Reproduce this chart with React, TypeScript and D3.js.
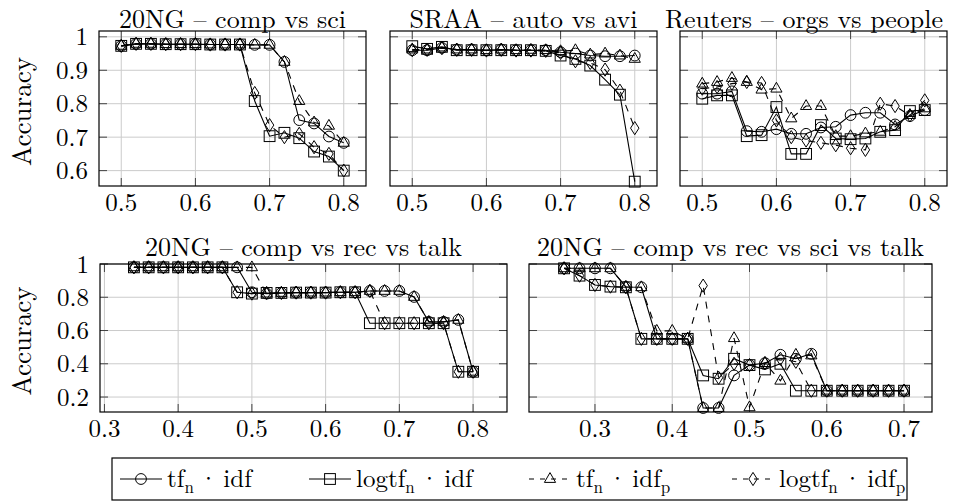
import React from 'react';
import * as d3 from 'd3';

// ---- x values (threshold) per experiment ----
const X_TOP = [0.5, 0.52, 0.54, 0.56, 0.58, 0.6, 0.62, 0.64, 0.66, 0.68, 0.7, 0.72, 0.74, 0.76, 0.78, 0.8];
const X_CRT = [0.34, 0.36, 0.38, 0.4, 0.42, 0.44, 0.46, 0.48, 0.5, 0.52, 0.54, 0.56, 0.58, 0.6, 0.62, 0.64, 0.66, 0.68, 0.7, 0.72, 0.74, 0.76, 0.78, 0.8];
const X_CRST = [0.26, 0.28, 0.3, 0.32, 0.34, 0.36, 0.38, 0.4, 0.42, 0.44, 0.46, 0.48, 0.5, 0.52, 0.54, 0.56, 0.58, 0.6, 0.62, 0.64, 0.66, 0.68, 0.7];

// ---- 20NG comp vs sci ----
const CS_TF_IDF = [0.973, 0.979, 0.979, 0.978, 0.978, 0.978, 0.977, 0.977, 0.977, 0.976, 0.976, 0.925, 0.751, 0.741, 0.702, 0.683];
const CS_LOGTF_IDF = [0.973, 0.979, 0.979, 0.978, 0.978, 0.978, 0.977, 0.977, 0.977, 0.808, 0.703, 0.713, 0.697, 0.657, 0.642, 0.6];
const CS_TF_IDFP = [0.973, 0.979, 0.979, 0.978, 0.978, 0.978, 0.977, 0.977, 0.977, 0.976, 0.976, 0.925, 0.808, 0.744, 0.734, 0.683];
const CS_LOGTF_IDFP = [0.973, 0.979, 0.979, 0.978, 0.978, 0.978, 0.977, 0.977, 0.977, 0.832, 0.736, 0.7, 0.71, 0.67, 0.65, 0.6];

// ---- SRAA auto vs avi ----
const SA_TF_IDF = [0.96, 0.96, 0.967, 0.962, 0.962, 0.96, 0.962, 0.96, 0.96, 0.96, 0.954, 0.95, 0.944, 0.942, 0.942, 0.944];
const SA_LOGTF_IDF = [0.972, 0.964, 0.97, 0.96, 0.96, 0.96, 0.96, 0.96, 0.96, 0.958, 0.944, 0.934, 0.914, 0.872, 0.827, 0.567];
const SA_TF_IDFP = [0.962, 0.962, 0.968, 0.962, 0.962, 0.96, 0.962, 0.96, 0.961, 0.96, 0.957, 0.96, 0.947, 0.95, 0.944, 0.934];
const SA_LOGTF_IDFP = [0.96, 0.961, 0.966, 0.961, 0.961, 0.959, 0.961, 0.959, 0.959, 0.958, 0.952, 0.927, 0.922, 0.902, 0.839, 0.727];

// ---- Reuters orgs vs people ----
const RO_TF_IDF = [0.83, 0.83, 0.837, 0.718, 0.716, 0.724, 0.71, 0.71, 0.729, 0.731, 0.766, 0.773, 0.773, 0.738, 0.763, 0.781];
const RO_LOGTF_IDF = [0.815, 0.825, 0.825, 0.703, 0.706, 0.79, 0.65, 0.65, 0.736, 0.696, 0.694, 0.696, 0.716, 0.721, 0.778, 0.781];
const RO_TF_IDFP = [0.86, 0.865, 0.877, 0.865, 0.842, 0.845, 0.756, 0.793, 0.793, 0.703, 0.703, 0.711, 0.716, 0.731, 0.766, 0.786];
const RO_LOGTF_IDFP = [0.845, 0.85, 0.86, 0.865, 0.862, 0.75, 0.7, 0.69, 0.683, 0.676, 0.667, 0.662, 0.8, 0.793, 0.765, 0.81];

// ---- 20NG comp vs rec vs talk ----
const CRT_TF_IDF = [0.98, 0.98, 0.98, 0.98, 0.98, 0.98, 0.98, 0.98, 0.83, 0.822, 0.826, 0.828, 0.828, 0.828, 0.83, 0.83, 0.838, 0.838, 0.838, 0.802, 0.652, 0.652, 0.664, 0.352];
const CRT_LOGTF_IDF = [0.98, 0.98, 0.98, 0.98, 0.98, 0.98, 0.98, 0.83, 0.822, 0.826, 0.826, 0.828, 0.828, 0.828, 0.83, 0.83, 0.644, 0.644, 0.644, 0.644, 0.644, 0.644, 0.352, 0.352];
const CRT_TF_IDFP = [0.98, 0.98, 0.98, 0.98, 0.98, 0.98, 0.98, 0.98, 0.98, 0.822, 0.826, 0.828, 0.828, 0.828, 0.83, 0.83, 0.838, 0.838, 0.838, 0.802, 0.652, 0.652, 0.664, 0.352];
const CRT_LOGTF_IDFP = [0.98, 0.98, 0.98, 0.98, 0.98, 0.98, 0.98, 0.83, 0.822, 0.826, 0.826, 0.828, 0.828, 0.828, 0.83, 0.83, 0.838, 0.644, 0.644, 0.644, 0.644, 0.644, 0.352, 0.352];

// ---- 20NG comp vs rec vs sci vs talk ----
const CRST_TF_IDF = [0.974, 0.974, 0.974, 0.974, 0.862, 0.86, 0.55, 0.55, 0.55, 0.134, 0.134, 0.33, 0.392, 0.404, 0.454, 0.43, 0.46, 0.238, 0.238, 0.238, 0.238, 0.238, 0.238];
const CRST_LOGTF_IDF = [0.974, 0.93, 0.874, 0.864, 0.86, 0.55, 0.55, 0.55, 0.55, 0.33, 0.31, 0.43, 0.392, 0.366, 0.4, 0.238, 0.238, 0.238, 0.238, 0.238, 0.238, 0.238, 0.238];
const CRST_TF_IDFP = [0.974, 0.974, 0.974, 0.974, 0.862, 0.86, 0.598, 0.598, 0.55, 0.134, 0.134, 0.554, 0.138, 0.404, 0.298, 0.454, 0.45, 0.238, 0.238, 0.238, 0.238, 0.238, 0.238];
const CRST_LOGTF_IDFP = [0.974, 0.93, 0.874, 0.864, 0.86, 0.55, 0.55, 0.55, 0.55, 0.87, 0.316, 0.4, 0.392, 0.404, 0.43, 0.412, 0.238, 0.238, 0.238, 0.238, 0.238, 0.238, 0.238];

// ---- ticks ----
const Y_TICKS_TOP = [0.6, 0.7, 0.8, 0.9, 1];
const Y_TICKS_BOTTOM = [0.2, 0.4, 0.6, 0.8, 1];
const X_TICKS_TOP = [0.5, 0.6, 0.7, 0.8];
const X_TICKS_CRT = [0.3, 0.4, 0.5, 0.6, 0.7, 0.8];
const X_TICKS_CRST = [0.3, 0.4, 0.5, 0.6, 0.7];

const TITLES = [
  '20NG – comp vs sci',
  'SRAA – auto vs avi',
  'Reuters – orgs vs people',
  '20NG – comp vs rec vs talk',
  '20NG – comp vs rec vs sci vs talk',
];

type MarkerKind = 'circle' | 'square' | 'triangle' | 'diamond';
const STYLES: { marker: MarkerKind; dash?: string }[] = [
  { marker: 'circle' },
  { marker: 'square' },
  { marker: 'triangle', dash: '7 7' },
  { marker: 'diamond', dash: '7 7' },
];

const FONT = "'Latin Modern Roman', 'CMU Serif', 'Liberation Serif', serif";
const TICK_SIZE = 25;
const TITLE_SIZE = 26;

interface Panel {
  title: string;
  titleX?: number;
  titleGap: number;
  xs: number[];
  series: number[][];
  left: number;
  right: number;
  top: number;
  bottom: number;
  xDomain: [number, number];
  yDomain: [number, number];
  xTicks: number[];
  yTicks: number[];
  showYLabels: boolean;
}

const ROW1 = { top: 31, bottom: 186, titleGap: 3, yDomain: [0.554, 1.0174] as [number, number] };
const ROW2 = { top: 264, bottom: 412, titleGap: 8, yDomain: [0.11, 1.0] as [number, number] };

const PANELS: Panel[] = [
  { title: TITLES[0], xs: X_TOP, series: [CS_TF_IDF, CS_LOGTF_IDF, CS_TF_IDFP, CS_LOGTF_IDFP], left: 99, right: 366, ...ROW1, xDomain: [0.47, 0.83], xTicks: X_TICKS_TOP, yTicks: Y_TICKS_TOP, showYLabels: true },
  { title: TITLES[1], xs: X_TOP, series: [SA_TF_IDF, SA_LOGTF_IDF, SA_TF_IDFP, SA_LOGTF_IDFP], left: 390, right: 657, ...ROW1, xDomain: [0.47, 0.83], xTicks: X_TICKS_TOP, yTicks: Y_TICKS_TOP, showYLabels: false },
  { title: TITLES[2], titleX: 804, xs: X_TOP, series: [RO_TF_IDF, RO_LOGTF_IDF, RO_TF_IDFP, RO_LOGTF_IDFP], left: 680, right: 947, ...ROW1, xDomain: [0.47, 0.83], xTicks: X_TICKS_TOP, yTicks: Y_TICKS_TOP, showYLabels: false },
  { title: TITLES[3], xs: X_CRT, series: [CRT_TF_IDF, CRT_LOGTF_IDF, CRT_TF_IDFP, CRT_LOGTF_IDFP], left: 100, right: 507, ...ROW2, xDomain: [0.294, 0.846], xTicks: X_TICKS_CRT, yTicks: Y_TICKS_BOTTOM, showYLabels: true },
  { title: TITLES[4], xs: X_CRST, series: [CRST_TF_IDF, CRST_LOGTF_IDF, CRST_TF_IDFP, CRST_LOGTF_IDFP], left: 529, right: 932, ...ROW2, xDomain: [0.2146, 0.7362], xTicks: X_TICKS_CRST, yTicks: Y_TICKS_BOTTOM, showYLabels: false },
];

const fmt = (v: number) => (v === 1 ? '1' : String(v));

function Marker({ kind, x, y }: { kind: MarkerKind; x: number; y: number }) {
  const common = { fill: 'none', stroke: '#000', strokeWidth: 1 };
  if (kind === 'circle') return <circle cx={x} cy={y} r={5.4} {...common} />;
  if (kind === 'square') return <rect x={x - 5.4} y={y - 5.4} width={10.8} height={10.8} {...common} />;
  if (kind === 'triangle')
    return <path d={`M${x},${y - 6.4}L${x + 5.6},${y + 3.4}L${x - 5.6},${y + 3.4}Z`} {...common} />;
  return <path d={`M${x},${y - 6.6}L${x + 4.2},${y}L${x},${y + 6.6}L${x - 4.2},${y}Z`} {...common} />;
}

function PanelView({ p }: { p: Panel }) {
  const x = d3.scaleLinear().domain(p.xDomain).range([p.left, p.right]);
  const y = d3.scaleLinear().domain(p.yDomain).range([p.bottom, p.top]);
  const line = d3
    .line<[number, number]>()
    .x((d) => x(d[0]))
    .y((d) => y(d[1]));
  const tickLen = 8;
  const cx = p.titleX ?? (p.left + p.right) / 2;
  return (
    <g>
      {/* grid */}
      {p.xTicks.map((t) => (
        <line key={'gx' + t} x1={x(t)} x2={x(t)} y1={p.top} y2={p.bottom} stroke="#cbcbcb" strokeWidth={1} />
      ))}
      {p.yTicks.map((t) => (
        <line key={'gy' + t} x1={p.left} x2={p.right} y1={y(t)} y2={y(t)} stroke="#cbcbcb" strokeWidth={1} />
      ))}
      {/* tick marks on all sides */}
      {p.xTicks.map((t) => (
        <g key={'tx' + t} stroke="#444" strokeWidth={1}>
          <line x1={x(t)} x2={x(t)} y1={p.bottom} y2={p.bottom - tickLen} />
          <line x1={x(t)} x2={x(t)} y1={p.top} y2={p.top + tickLen} />
        </g>
      ))}
      {p.yTicks.map((t) => (
        <g key={'ty' + t} stroke="#444" strokeWidth={1}>
          <line x1={p.left} x2={p.left + tickLen} y1={y(t)} y2={y(t)} />
          <line x1={p.right} x2={p.right - tickLen} y1={y(t)} y2={y(t)} />
        </g>
      ))}
      {/* series */}
      {p.series.map((vals, si) => {
        const pts: [number, number][] = p.xs.map((xv, i) => [xv, vals[i]]);
        const st = STYLES[si];
        return (
          <g key={'s' + si}>
            <path d={line(pts) || ''} fill="none" stroke="#000" strokeWidth={1.1} strokeDasharray={st.dash} />
            {pts.map((d, i) => (
              <Marker key={i} kind={st.marker} x={x(d[0])} y={y(d[1])} />
            ))}
          </g>
        );
      })}
      {/* frame */}
      <rect x={p.left} y={p.top} width={p.right - p.left} height={p.bottom - p.top} fill="none" stroke="#000" strokeWidth={1.2} />
      {/* tick labels */}
      {p.xTicks.map((t) => (
        <text key={'lx' + t} x={x(t)} y={p.bottom + 25} textAnchor="middle" fontSize={TICK_SIZE} fontFamily={FONT}>
          {fmt(t)}
        </text>
      ))}
      {p.showYLabels &&
        p.yTicks.map((t) => (
          <text key={'ly' + t} x={p.left - 11} y={y(t) + 8.5} textAnchor="end" fontSize={TICK_SIZE} fontFamily={FONT}>
            {fmt(t)}
          </text>
        ))}
      {p.showYLabels && (
        <text
          transform={`translate(31,${(p.top + p.bottom) / 2 + 3}) rotate(-90)`}
          textAnchor="middle"
          fontSize={27}
          fontFamily={FONT}
        >
          Accuracy
        </text>
      )}
      <text x={cx} y={p.top - p.titleGap} textAnchor="middle" fontSize={TITLE_SIZE} fontFamily={FONT}>
        {p.title}
      </text>
    </g>
  );
}

// legend entries: weighting name, with subscripts
const THIN = '\u2009';
const LEGEND_ENTRIES = [
  { pre: 'tf', post: `${THIN}·${THIN}idf`, sub2: false },
  { pre: 'logtf', post: `${THIN}·${THIN}idf`, sub2: false },
  { pre: 'tf', post: `${THIN}·${THIN}idf`, sub2: true },
  { pre: 'logtf', post: `${THIN}·${THIN}idf`, sub2: true },
];

function Legend() {
  const box = { left: 112, right: 907, top: 458, bottom: 500 };
  const cy = (box.top + box.bottom) / 2;
  const markerX = [141, 330, 550, 753];
  return (
    <g>
      <rect x={box.left} y={box.top} width={box.right - box.left} height={box.bottom - box.top} fill="#fff" stroke="#000" strokeWidth={1.2} />
      {LEGEND_ENTRIES.map((e, i) => {
        const st = STYLES[i];
        const m = markerX[i];
        return (
          <g key={i}>
            <line x1={m - 21} x2={m + 21} y1={cy} y2={cy} stroke="#000" strokeWidth={1.1} strokeDasharray={st.dash ? '5 6' : undefined} />
            <Marker kind={st.marker} x={m} y={cy} />
            <text x={m + 26} y={cy + 8} fontSize={25} fontFamily={FONT} style={{ whiteSpace: 'pre' }}>
              {e.pre}
              <tspan fontSize={17} dy={6}>n</tspan>
              <tspan dy={-6}>{e.post}</tspan>
              {e.sub2 && (
                <tspan fontSize={17} dy={6}>
                  p
                </tspan>
              )}
            </text>
          </g>
        );
      })}
    </g>
  );
}

export default function App() {
  return (
    <svg
      width={961}
      height={502}
      viewBox="0 0 961 502"
      style={{ position: 'absolute', left: 0, top: 0, background: '#fff' }}
    >
      <rect width={961} height={502} fill="#fff" />
      {PANELS.map((p, i) => (
        <PanelView key={i} p={p} />
      ))}
      <Legend />
    </svg>
  );
}
